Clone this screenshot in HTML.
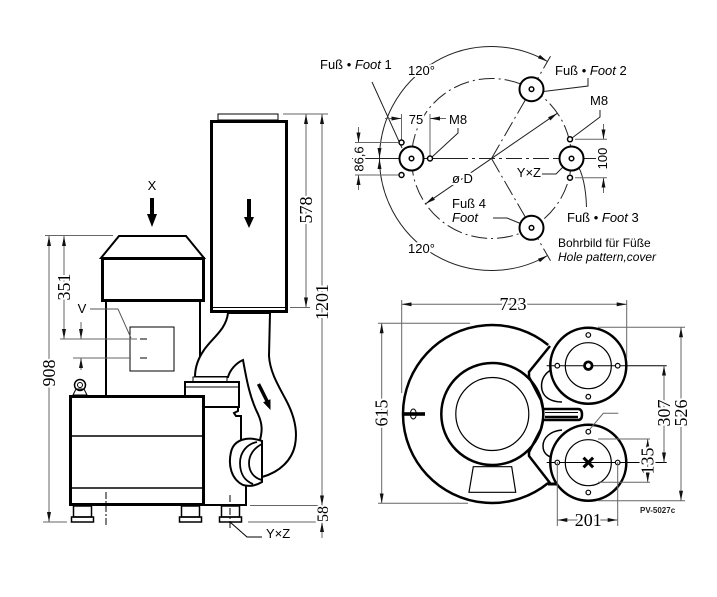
<!DOCTYPE html>
<html><head><meta charset="utf-8"><style>
html,body{margin:0;padding:0;background:#fff;}
svg{display:block;}
.s{font-family:"Liberation Sans",sans-serif;font-size:13px;fill:#000;}
.n{font-family:"Liberation Serif",serif;font-size:18px;fill:#000;}
.h{paint-order:stroke;stroke:#fff;stroke-width:4px;stroke-linejoin:round;}
</style></head><body>
<svg width="717" height="597" viewBox="0 0 717 597" xmlns="http://www.w3.org/2000/svg">
<defs>
<marker id="a" viewBox="0 0 10 4" refX="10" refY="2" markerWidth="10" markerHeight="4" markerUnits="userSpaceOnUse" orient="auto-start-reverse"><path d="M0,0L10,2L0,4z" fill="#111"/></marker>
</defs>
<rect width="717" height="597" fill="#fff"/>

<!-- ================= LEFT VIEW ================= -->
<g fill="none" stroke="#000">
  <!-- filter -->
  <rect x="218" y="114" width="60" height="6" stroke-width="1"/>
  <rect x="211.5" y="121.5" width="75" height="190" stroke-width="3"/>
  <line x1="213" y1="307.5" x2="285" y2="307.5" stroke-width="1"/>
  <line x1="249" y1="199" x2="249" y2="219" stroke-width="4"/>
  <!-- X arrow -->
  <line x1="152" y1="198" x2="152" y2="216" stroke-width="4"/>
  <!-- hood -->
  <polygon points="119,236 186,236 204,258 101,258" stroke-width="2" fill="#fff"/>
  <rect x="102.5" y="258.5" width="101" height="42" stroke-width="3"/>
  <!-- motor body -->
  <line x1="106" y1="302" x2="106" y2="396" stroke-width="2"/>
  <line x1="200" y1="302" x2="200" y2="382" stroke-width="2"/>
  <!-- pipe -->
  <path d="M228,313 C226,330 212,338 204,350 C197,360 195,370 195,377 L228,377 C230,370 236,363 243,360 C246,376 249,396 258,414 C263,425 262,432 260,440 L262,477 C280,472 292,460 295,445 C298,430 294,415 286,400 C278,385 270,372 269,356 L270,313 Z" stroke-width="2" fill="#fff"/>
  <rect x="193" y="377" width="34" height="5" stroke-width="1" fill="#fff"/>
  <rect x="185" y="382" width="54" height="25" stroke-width="2" fill="#fff"/>
  <line x1="185" y1="387" x2="239" y2="387" stroke-width="1"/>
  <!-- base right part -->
  <path d="M204,407 L238,407 L238,411 L234,413 L236,416 L241,416 L241,440" stroke-width="2"/>
  <path d="M246,482 L246,505 L204,505" stroke-width="2"/>
  <!-- coupling -->
  <path d="M262,441 C248,436 234,439 231,452 C228,465 231,479 243,485 C250,487 257,485 262,482 Z" stroke-width="2" fill="#fff"/>
  <path d="M257,442 C247,444 240,452 240,463 C240,474 245,481 253,484" stroke-width="1.8"/>
  <path d="M262,444 C254,448 249,455 249,463 C249,472 254,478 262,480" stroke-width="1.8"/>
  <!-- flow arrow -->
  <line x1="258.5" y1="384" x2="267" y2="401" stroke-width="3.5"/>
  <!-- main box -->
  <rect x="70.5" y="396.5" width="133" height="108" stroke-width="3" fill="#fff"/>
  <line x1="70" y1="436" x2="204" y2="436" stroke-width="1.5"/>
  <line x1="70" y1="488" x2="204" y2="488" stroke-width="1.5"/>
  <!-- eyebolt -->
  <circle cx="80" cy="385" r="5.5" stroke-width="1.5"/>
  <circle cx="80" cy="385" r="2.5" stroke-width="1"/>
  <polygon points="73,395 76,389 84,389 87,395" stroke-width="1"/>
  <!-- small rect V -->
  <rect x="130" y="327" width="44" height="44" stroke-width="1"/>
  <!-- feet -->
  <rect x="73.5" y="506" width="18" height="11" stroke-width="1.5"/>
  <rect x="71.5" y="517" width="22" height="5" stroke-width="1.5"/>
  <rect x="181.5" y="506" width="18" height="11" stroke-width="1.5"/>
  <rect x="179.5" y="517" width="22" height="5" stroke-width="1.5"/>
  <rect x="221.5" y="506" width="18" height="11" stroke-width="1.5"/>
  <rect x="219.5" y="517" width="22" height="5" stroke-width="1.5"/>
  <line x1="106" y1="492" x2="106" y2="525" stroke-width="1" stroke-dasharray="7 2 2 2"/>
  <line x1="230" y1="495" x2="230" y2="528" stroke-width="1" stroke-dasharray="7 2 2 2"/>
  <!-- Y x Z leader -->
  <polyline points="230,522 247,537 262,537" stroke-width="1"/>
  <!-- dashes in small rect -->
  <line x1="140" y1="339" x2="147" y2="339" stroke-width="1"/>
  <line x1="140" y1="358" x2="147" y2="358" stroke-width="1"/>
  <!-- V leader -->
  <polyline points="90,309 118,309 131,338" stroke-width="1" stroke="#555"/>
</g>
<g fill="#000">
  <polygon points="244,217 254,217 249,228"/>
  <polygon points="147,214 157,214 152,227"/>
  <polygon points="270.5,399.2 263.1,402.2 270.5,410"/>
</g>
<!-- left dims -->
<g stroke="#666" stroke-width="1" fill="none">
  <line x1="45" y1="235.5" x2="113" y2="235.5"/>
  <line x1="43" y1="522" x2="67" y2="522"/>
  <line x1="49" y1="236" x2="49" y2="522" marker-start="url(#a)" marker-end="url(#a)"/>
  <line x1="64" y1="236" x2="64" y2="339" marker-start="url(#a)" marker-end="url(#a)"/>
  <line x1="60" y1="339" x2="137" y2="339"/>
  <line x1="73" y1="358" x2="131" y2="358"/>
  <line x1="81" y1="322" x2="81" y2="339" marker-end="url(#a)"/>
  <line x1="81" y1="370" x2="81" y2="358" marker-end="url(#a)"/>
  <line x1="283" y1="114" x2="328" y2="114"/>
  <line x1="290" y1="307.5" x2="310" y2="307.5"/>
  <line x1="306" y1="114" x2="306" y2="307.5" marker-start="url(#a)" marker-end="url(#a)"/>
  <line x1="322" y1="114" x2="322" y2="505.5" marker-start="url(#a)" marker-end="url(#a)"/>
  <line x1="250" y1="505.5" x2="327" y2="505.5"/>
  <line x1="248" y1="522" x2="328" y2="522"/>
  <line x1="322" y1="538" x2="322" y2="522" marker-end="url(#a)"/>
</g>
<text class="n h" text-anchor="middle" transform="translate(49,373) rotate(-90)" dy="6">908</text>
<text class="n h" text-anchor="middle" transform="translate(64,287) rotate(-90)" dy="6">351</text>
<text class="n h" text-anchor="middle" transform="translate(306,210) rotate(-90)" dy="6">578</text>
<text class="n h" text-anchor="middle" transform="translate(322,302) rotate(-90)" dy="6">1201</text>
<text class="n h" text-anchor="middle" transform="translate(322,514) rotate(-90)" dy="6" style="font-size:16px">58</text>
<text class="s" x="152" y="190" text-anchor="middle">X</text>
<text class="s" x="82" y="313" text-anchor="middle">V</text>
<text class="s" x="266" y="538">Y×Z</text>

<!-- ================= HOLE PATTERN ================= -->
<g fill="none" stroke="#222" stroke-width="1">
  <circle cx="491.5" cy="158.5" r="80" stroke-dasharray="16 4 2 4"/>
  <path d="M547.5,61.5 A112,112 0 1 0 547.5,255.5" marker-start="url(#a)" marker-end="url(#a)"/>
  <line x1="491.5" y1="158.5" x2="550.5" y2="56.3" stroke-dasharray="16 4 2 4"/>
  <line x1="491.5" y1="158.5" x2="550.5" y2="260.7" stroke-dasharray="16 4 2 4"/>
  <line x1="352" y1="158.5" x2="452" y2="158.5"/>
  <line x1="452" y1="158.5" x2="555" y2="158.5" stroke-dasharray="16 4 3 4"/>
  <line x1="555" y1="158.5" x2="603" y2="158.5"/>
  <line x1="425.6" y1="203.8" x2="557.4" y2="113.2" marker-start="url(#a)" marker-end="url(#a)"/>
  <!-- leaders -->
  <line x1="372" y1="82" x2="402" y2="148"/>
  <polyline points="458,128 458,133 432,157"/>
  <polyline points="600,110 600,117 572,138"/>
  <polyline points="542,174 556,174 569,161"/>
  <path d="M586.5,207 C586,190 583,172 576,163"/>
  <polyline points="588,78 588,86 543.5,91.5"/>
  <polyline points="493,218 507,218 529,227"/>
</g>
<g stroke="#666" stroke-width="1" fill="none">
  <line x1="401.5" y1="140" x2="401.5" y2="114"/>
  <line x1="430" y1="156" x2="430" y2="114"/>
  <line x1="385" y1="118.5" x2="401.5" y2="118.5" marker-end="url(#a)"/>
  <line x1="446" y1="118.5" x2="430" y2="118.5" marker-end="url(#a)"/>
  <line x1="355" y1="142.5" x2="398" y2="142.5"/>
  <line x1="355" y1="175" x2="398" y2="175"/>
  <line x1="358.5" y1="127" x2="358.5" y2="142.5" marker-end="url(#a)"/>
  <line x1="358.5" y1="190" x2="358.5" y2="175" marker-end="url(#a)"/>
  <line x1="575" y1="139.3" x2="607" y2="139.3"/>
  <line x1="575" y1="177.7" x2="607" y2="177.7"/>
  <line x1="603.5" y1="124" x2="603.5" y2="139.3" marker-end="url(#a)"/>
  <line x1="603.5" y1="193" x2="603.5" y2="177.7" marker-end="url(#a)"/>
</g>
<g fill="#111">
  <polygon points="377.5,148 381.5,148 379.5,158"/>
  <polygon points="377.5,169 381.5,169 379.5,159"/>
</g>
<g fill="#fff" stroke="#000">
  <circle cx="411.5" cy="158.5" r="12" stroke-width="2"/>
  <circle cx="571.5" cy="158.5" r="12" stroke-width="2"/>
  <circle cx="531.5" cy="89.2" r="12" stroke-width="2"/>
  <circle cx="531.5" cy="227.8" r="12" stroke-width="2"/>
  <circle cx="411.5" cy="158.5" r="2.3" stroke-width="1.5"/>
  <circle cx="571.5" cy="158.5" r="2.3" stroke-width="1.5"/>
  <circle cx="531.5" cy="89.2" r="2.3" stroke-width="1.5"/>
  <circle cx="531.5" cy="227.8" r="2.3" stroke-width="1.5"/>
  <circle cx="401.5" cy="142.5" r="2.5" stroke-width="1.5"/>
  <circle cx="401.5" cy="175" r="2.5" stroke-width="1.5"/>
  <circle cx="430" cy="158.5" r="2.5" stroke-width="1.5"/>
  <circle cx="570" cy="139.3" r="2.5" stroke-width="1.5"/>
  <circle cx="570" cy="177.7" r="2.5" stroke-width="1.5"/>
</g>
<text class="s h" x="320" y="69">Fuß • <tspan font-style="italic">Foot</tspan> 1</text>
<text class="s h" x="408" y="75">120°</text>
<text class="s h" x="408" y="253">120°</text>
<text class="s h" x="555" y="75">Fuß • <tspan font-style="italic">Foot</tspan> 2</text>
<text class="s" x="590" y="105">M8</text>
<text class="s h" x="416" y="124" text-anchor="middle">75</text>
<text class="s" x="449" y="124">M8</text>
<text class="s h" text-anchor="middle" transform="translate(358.5,159) rotate(-90)" dy="5">86,6</text>
<text class="s h" text-anchor="middle" transform="translate(602,158.5) rotate(-90)" dy="5">100</text>
<text class="s" x="541" y="177" text-anchor="end">Y×Z</text>
<text class="s h" x="452" y="183">ø D</text>
<text class="s" x="452" y="208">Fuß 4</text>
<text class="s" x="452" y="222" font-style="italic">Foot</text>
<text class="s h" x="567" y="222">Fuß • <tspan font-style="italic">Foot</tspan> 3</text>
<text class="s" x="558" y="247" style="font-size:12px">Bohrbild für Füße</text>
<text class="s" x="558" y="261" style="font-size:12px;font-style:italic">Hole pattern,cover</text>

<!-- ================= PLAN VIEW ================= -->
<g fill="none" stroke="#000">
  <path d="M548.2,345 A89,89 0 1 0 548.2,483" stroke-width="2.5"/>
  <circle cx="492.3" cy="414" r="51" stroke-width="2.5"/>
  <circle cx="492.3" cy="414" r="36.5" stroke-width="1.2"/>
  <polygon points="473.3,466.7 511.7,466.7 515.7,492.3 469,492.3" stroke-width="1.2"/>
  <ellipse cx="413.3" cy="414" rx="3" ry="5" stroke-width="1"/>
  <path d="M550,346 L529,372 L529,377 L541,400 L543,409 L578,409 Q582,409 582,414.5 Q582,420 578,420 L543,420 L541,429 L529,452 L529,456 L550,483" stroke-width="2.5"/>
  <line x1="545" y1="417" x2="578" y2="417" stroke-width="2.5"/>
  <line x1="545" y1="412.5" x2="578" y2="412.5" stroke-width="1"/>
  <path d="M556,368 C545,371 540,380 542,390 C544,398 552,402 562,402" stroke-width="1.5"/>
  <path d="M562,430 C550,431 543,438 543,446 C543,454 549,458 557,458" stroke-width="1.5"/>
  <line x1="548" y1="484" x2="557" y2="484" stroke-width="3"/>
</g>
<rect x="403" y="412.2" width="22" height="3.6" fill="#000"/>
<g stroke="#000">
  <circle cx="588.3" cy="365.7" r="38" stroke-width="2.5" fill="#fff"/>
  <circle cx="588.3" cy="462.7" r="38" stroke-width="2.5" fill="#fff"/>
  <circle cx="588.3" cy="365.7" r="23" stroke-width="1.2" fill="none"/>
  <circle cx="588.3" cy="462.7" r="23" stroke-width="1.2" fill="none"/>
  <line x1="546.7" y1="365.7" x2="666.7" y2="365.7" stroke-width="1"/>
  <line x1="546.7" y1="462.5" x2="666.7" y2="462.5" stroke-width="1"/>
  <circle cx="588.3" cy="365.7" r="3.8" stroke-width="2.8" fill="#fff"/>
  <line x1="583.5" y1="457.7" x2="593.1" y2="467.3" stroke-width="3"/>
  <line x1="593.1" y1="457.7" x2="583.5" y2="467.3" stroke-width="3"/>
  <g fill="#fff" stroke-width="1.2">
    <circle cx="588.3" cy="335" r="2.3"/>
    <circle cx="588.3" cy="396.7" r="2.3"/>
    <circle cx="557.3" cy="365.7" r="2.3"/>
    <circle cx="617.7" cy="365.7" r="2.3"/>
    <circle cx="588.3" cy="431.7" r="2.3"/>
    <circle cx="588.3" cy="492.5" r="2.3"/>
    <circle cx="557.3" cy="462.5" r="2.3"/>
    <circle cx="617.7" cy="462.5" r="2.3"/>
  </g>
</g>
<g stroke="#666" stroke-width="1" fill="none">
  <line x1="401.7" y1="300" x2="401.7" y2="393"/>
  <line x1="626.7" y1="300" x2="626.7" y2="358"/>
  <line x1="401.7" y1="304.3" x2="626.7" y2="304.3" marker-start="url(#a)" marker-end="url(#a)"/>
  <line x1="378" y1="323.3" x2="470" y2="323.3"/>
  <line x1="378" y1="503.3" x2="468" y2="503.3"/>
  <line x1="381.7" y1="323.3" x2="381.7" y2="503.3" marker-start="url(#a)" marker-end="url(#a)"/>
  <line x1="598" y1="327.3" x2="685" y2="327.3"/>
  <line x1="598" y1="500.7" x2="685" y2="500.7"/>
  <line x1="681" y1="327.3" x2="681" y2="500.7" marker-start="url(#a)" marker-end="url(#a)"/>
  <line x1="664" y1="365.7" x2="664" y2="462.5" marker-start="url(#a)" marker-end="url(#a)"/>
  <line x1="598" y1="439" x2="650" y2="439"/>
  <line x1="598" y1="482.3" x2="650" y2="482.3"/>
  <line x1="647.7" y1="439" x2="647.7" y2="482.3" marker-start="url(#a)" marker-end="url(#a)"/>
  <line x1="557.3" y1="462" x2="557.3" y2="526"/>
  <line x1="617.7" y1="462" x2="617.7" y2="526"/>
  <line x1="557.3" y1="520" x2="617.7" y2="520" marker-start="url(#a)" marker-end="url(#a)"/>
  <polyline points="590,429 603.3,413.3 618.3,413.3"/>
</g>
<text class="n h" x="513" y="310" text-anchor="middle">723</text>
<text class="n h" text-anchor="middle" transform="translate(381.7,413) rotate(-90)" dy="6">615</text>
<text class="n h" text-anchor="middle" transform="translate(664,413) rotate(-90)" dy="6">307</text>
<text class="n h" text-anchor="middle" transform="translate(681,413) rotate(-90)" dy="6">526</text>
<text class="n h" text-anchor="middle" transform="translate(647.7,461) rotate(-90)" dy="6">135</text>
<text class="n h" x="588.3" y="526" text-anchor="middle">201</text>
<text x="640" y="513" style="font-family:'Liberation Sans',sans-serif;font-size:8px;font-weight:bold;fill:#222">PV-5027c</text>
</svg>
</body></html>
